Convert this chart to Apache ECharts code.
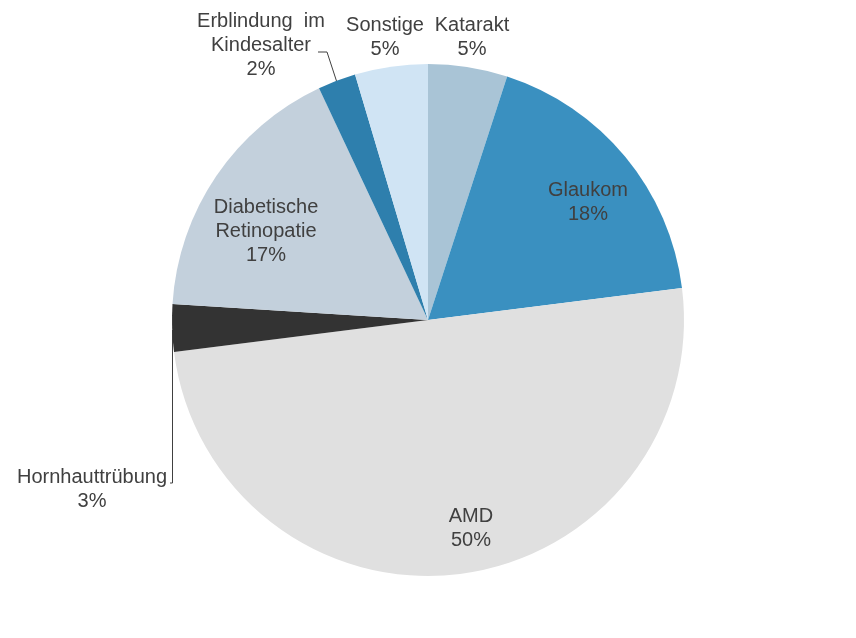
<!DOCTYPE html>
<html>
<head>
<meta charset="utf-8">
<script src="https://cdn.jsdelivr.net/npm/echarts@6/dist/echarts.min.js"></script>
<style>html,body{margin:0;padding:0;background:#fff;}#c{width:856px;height:638px;}</style>
</head>
<body>
<div id="c"></div>
<script>
var categories = ['Katarakt', 'Glaukom', 'AMD', 'Hornhauttrübung', 'Diabetische\nRetinopatie', 'Erblindung  im\nKindesalter', 'Sonstige'];
var values = [5, 18, 50, 3, 17, 2.4, 4.6];
var colors = ['#a9c4d6', '#3a90c0', '#e0e0e0', '#333333', '#c3d0dc', '#2e7fad', '#d0e4f4'];
// label anchor positions (layout, not data)
var labelPos = [[472, 37], [588, 202], [471, 528], [92, 489], [266, 231], [261, 45], [385, 37]];
var linePts = {
  3: [[172.5, 330], [172.5, 483], [170, 483]],
  5: [[336.5, 81], [327, 52], [318, 52]]
};

var chart = echarts.init(document.getElementById('c'), null, {renderer: 'canvas'});
chart.setOption({
  animation: false,
  series: [{
    type: 'pie',
    center: [428, 320],
    radius: 256,
    startAngle: 90,
    clockwise: true,
    avoidLabelOverlap: false,
    itemStyle: {borderWidth: 0},
    emphasis: {disabled: true},
    label: {
      show: true,
      position: 'outside',
      formatter: function (p) { return p.name + '\n' + Math.round(p.value) + '%'; },
      fontFamily: 'Liberation Sans, Arial, sans-serif',
      fontSize: 20,
      lineHeight: 24,
      color: '#404040',
      align: 'center'
    },
    labelLine: {show: false, lineStyle: {color: '#404040', width: 1}},
    labelLayout: function (params) {
      var i = params.dataIndex;
      var r = {x: labelPos[i][0], y: labelPos[i][1], align: 'center', verticalAlign: 'middle'};
      if (linePts[i]) r.labelLinePoints = linePts[i];
      return r;
    },
    data: categories.map(function (n, i) {
      var d = {name: n, value: values[i], itemStyle: {color: colors[i]}};
      if (linePts[i]) d.labelLine = {show: true, length: 10, length2: 10};
      return d;
    })
  }]
});
</script>
</body>
</html>
